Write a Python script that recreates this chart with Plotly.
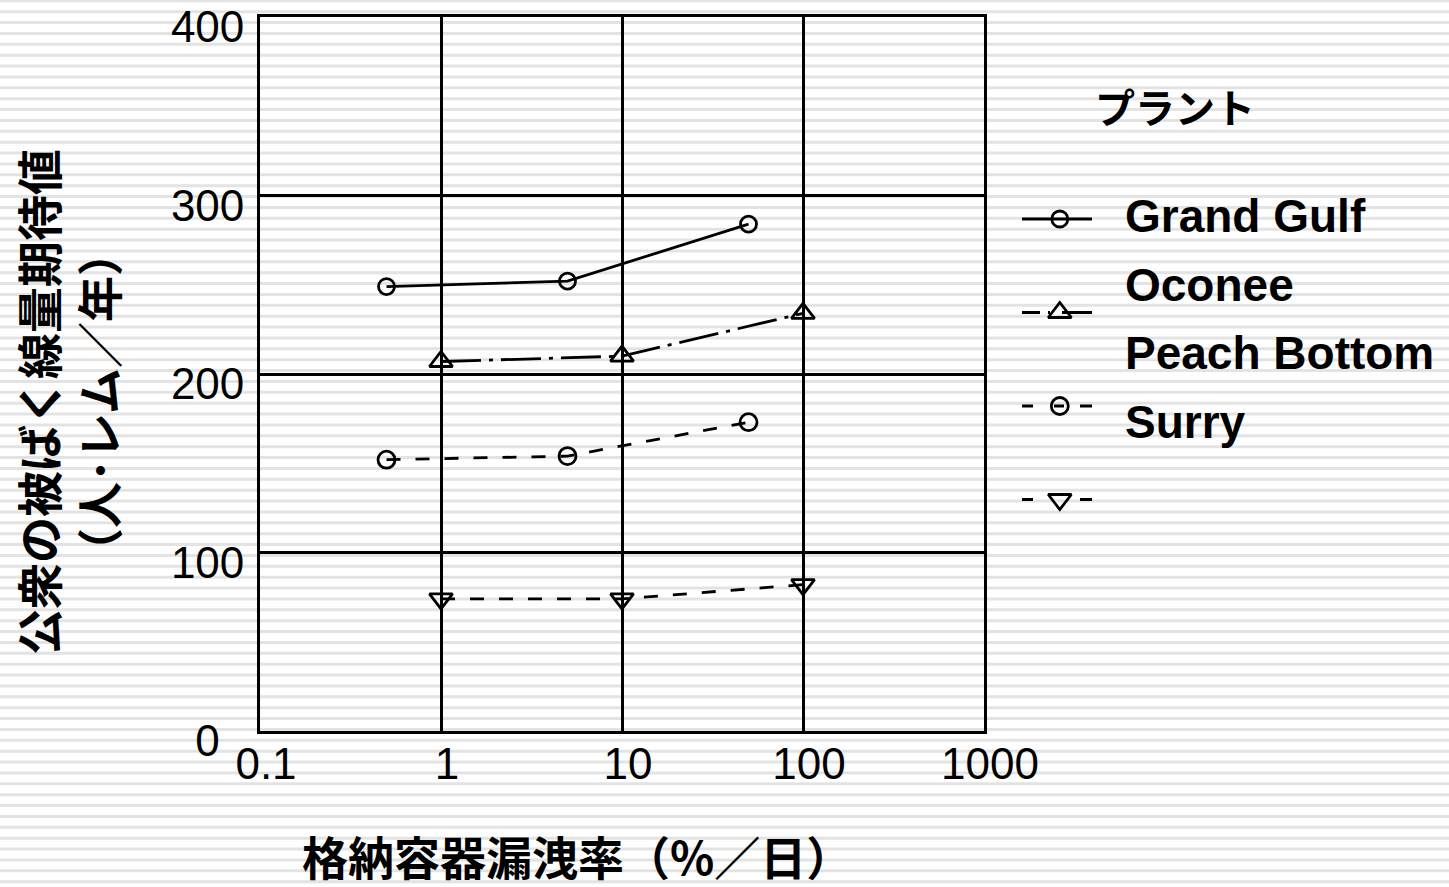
import plotly.graph_objects as go

# ---- data -------------------------------------------------------------
plant_names = ["Grand Gulf", "Oconee", "Peach Bottom", "Surry"]

leak_gg = [0.5, 5, 50]
dose_gg = [249, 252, 284]

leak_oconee = [1, 10, 100]
dose_oconee = [207, 210, 234]

leak_pb = [0.5, 5, 50]
dose_pb = [152, 154, 173]

leak_surry = [1, 10, 100]
dose_surry = [74, 74, 82]

x_tick_vals = [0.1, 1, 10, 100, 1000]
x_tick_text = ["0.1", "1", "10", "100", "1000"]
y_tick_vals = [0, 100, 200, 300, 400]
y_tick_text = ["0", "100", "200", "300", "400"]

# ---- page geometry (pixels) ------------------------------------------
W, H = 1449, 887
PLOT_L, PLOT_R, PLOT_T, PLOT_B = 260, 984, 17, 731


def px_x(p):
    return p / W


def px_y(p):
    return 1 - p / H


LATIN = "Liberation Sans, Arial, Noto Sans CJK JP"
CJK = "Noto Sans CJK JP, Liberation Sans"
LW = 2.8

# the single-digit "0" label sits a digit-width in from the others
FIGURE_SPACE = "\u2007"
y_tick_labels = [t + FIGURE_SPACE if len(t) == 1 else t for t in y_tick_text]

series = [
    dict(x=leak_gg, y=dose_gg, symbol="circle-open", dash="solid", size=16,
         legend_dash="solid"),
    dict(x=leak_oconee, y=dose_oconee, symbol="triangle-up-open",
         dash="40px,8px,4px,8px", size=20,
         legend_dash="18px,8px,2px,12px,30px"),
    dict(x=leak_pb, y=dose_pb, symbol="circle-open", dash="14px,15px", size=17,
         legend_dash="11px,21px,10px,16px,12px"),
    dict(x=leak_surry, y=dose_surry, symbol="triangle-down-open",
         dash="14px,15px", size=20, legend_dash="11px,47px,12px"),
]

fig = go.Figure()

for name, s in zip(plant_names, series):
    fig.add_trace(go.Scatter(
        x=s["x"], y=s["y"], name=name, mode="lines+markers",
        line=dict(color="black", width=LW, dash=s["dash"]),
        marker=dict(symbol=s["symbol"], size=s["size"], color="black",
                    line=dict(color="black", width=LW)),
        showlegend=False, xaxis="x", yaxis="y",
    ))

# ---- hand-built key: symbol samples on their own small axes -----------
KEY_ROW0, KEY_ROW_STEP = 219, 93.5
KEY_X0, KEY_X1 = 1022, 1092
key_rows = list(range(len(plant_names)))
for row, s in zip(key_rows, series):
    fig.add_trace(go.Scatter(
        x=[0, 1], y=[row, row], mode="lines",
        line=dict(color="black", width=LW, dash=s["legend_dash"]),
        showlegend=False, hoverinfo="skip", xaxis="x2", yaxis="y2",
    ))
    fig.add_trace(go.Scatter(
        x=[0.54], y=[row], mode="markers",
        marker=dict(symbol=s["symbol"], size=s["size"], color="black",
                    line=dict(color="black", width=LW)),
        showlegend=False, hoverinfo="skip", xaxis="x2", yaxis="y2",
    ))

LABEL_ROW0, LABEL_ROW_STEP = 214, 68.7
annotations = []
for i, name in enumerate(plant_names):
    annotations.append(dict(
        text=name, xref="paper", yref="paper",
        x=px_x(1123), y=px_y(LABEL_ROW0 + 2 + LABEL_ROW_STEP * i),
        xanchor="left", yanchor="middle", showarrow=False,
        font=dict(family=LATIN, size=46, color="black", weight="bold"),
    ))

annotations.append(dict(
    text="プラント", xref="paper", yref="paper",
    x=px_x(1175), y=px_y(106), xanchor="center", yanchor="middle",
    showarrow=False, font=dict(family=CJK, size=40, color="black",
                               weight="bold"),
))

# axis titles
annotations.append(dict(
    text="公衆の被ばく線量期待値<br>（人･レム／年）",
    xref="paper", yref="paper", x=px_x(67), y=px_y(402),
    xanchor="center", yanchor="middle", textangle=-90, showarrow=False,
    font=dict(family=CJK, size=46, color="black", weight="bold"),
))
annotations.append(dict(
    text="格納容器漏洩率（%／日）",
    xref="paper", yref="paper", x=px_x(577), y=px_y(855),
    xanchor="center", yanchor="middle", showarrow=False,
    font=dict(family=CJK, size=46, color="black", weight="bold"),
))

# ---- striped page background ------------------------------------------
STRIPE_STEP, STRIPE_OFFSET = 10.875, 0.8
shapes = []
n = 0
while STRIPE_OFFSET + n * STRIPE_STEP < H + 2:
    yy = px_y(STRIPE_OFFSET + n * STRIPE_STEP)
    shapes.append(dict(
        type="line", xref="paper", yref="paper", x0=0, x1=1, y0=yy, y1=yy,
        line=dict(color="#e3e3e3", width=3), layer="below",
    ))
    n += 1

fig.update_layout(
    template="none",
    width=W, height=H,
    margin=dict(l=0, r=0, t=0, b=0, pad=0),
    paper_bgcolor="white",
    plot_bgcolor="rgba(0,0,0,0)",
    showlegend=False,
    annotations=annotations,
    shapes=shapes,
    xaxis=dict(
        type="log", range=[-1, 3],
        domain=[px_x(PLOT_L), px_x(PLOT_R)],
        tickvals=x_tick_vals, ticktext=x_tick_text,
        ticks="", ticklabelstandoff=-8, ticklabelshift=6,
        ticklabeloverflow="allow",
        tickfont=dict(family=LATIN, size=44, color="black"),
        showgrid=True, gridcolor="black", gridwidth=LW,
        showline=True, linecolor="black", linewidth=LW, mirror=True,
        zeroline=False, fixedrange=True, automargin=False,
    ),
    yaxis=dict(
        range=[0, 400],
        domain=[px_y(PLOT_B), px_y(PLOT_T)],
        tickvals=y_tick_vals, ticktext=y_tick_labels,
        ticks="", ticklabelstandoff=4, ticklabelshift=10,
        ticklabeloverflow="allow",
        tickfont=dict(family=LATIN, size=44, color="black"),
        showgrid=True, gridcolor="black", gridwidth=LW,
        showline=True, linecolor="black", linewidth=LW, mirror=True,
        zeroline=False, fixedrange=True, automargin=False,
    ),
    xaxis2=dict(
        range=[0, 1], domain=[px_x(KEY_X0), px_x(KEY_X1)],
        anchor="y2", visible=False, fixedrange=True,
    ),
    yaxis2=dict(
        range=[len(plant_names) - 0.5, -0.5],
        domain=[px_y(KEY_ROW0 + KEY_ROW_STEP * (len(plant_names) - 0.5)),
                px_y(KEY_ROW0 - KEY_ROW_STEP * 0.5)],
        anchor="x2", visible=False, fixedrange=True,
    ),
)

fig.write_html("out.html")
